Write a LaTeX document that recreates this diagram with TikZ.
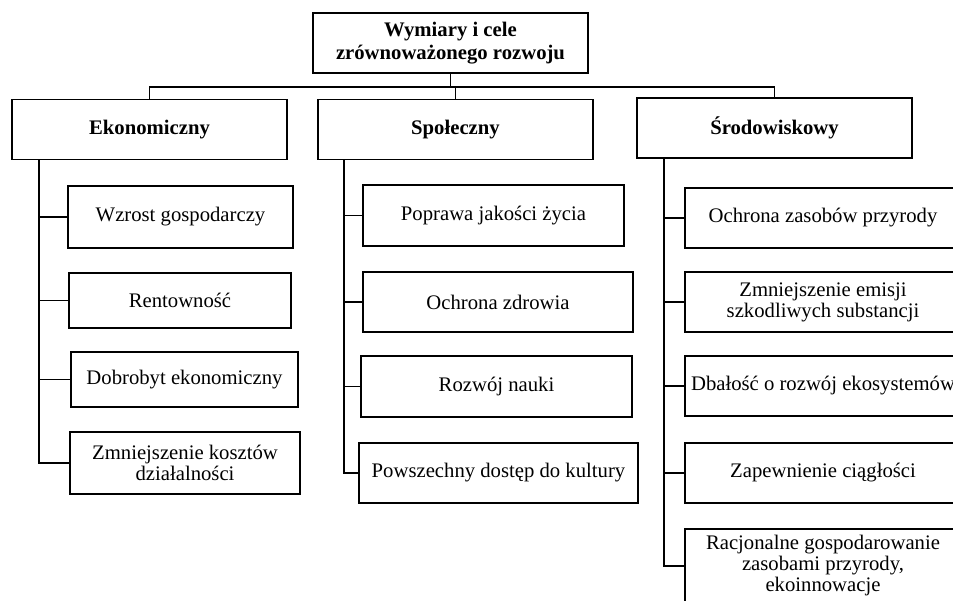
\documentclass[tikz,border=0pt]{standalone}
\usepackage{fontspec}
\setmainfont{Liberation Serif}
\tikzset{
  box/.style={draw, line width=1.7pt, align=center, inner xsep=2pt, inner ysep=0pt,
    font=\fontsize{20.7}{21}\selectfont},
  head/.style={box, minimum width=275pt, minimum height=60pt,
    font=\fontsize{20.7}{23}\selectfont\bfseries},
  link/.style={line width=1.8pt},
}
\begin{document}
\begin{tikzpicture}[x=1pt,y=-1pt]
    \clip (0,0) rectangle (953,600);

    % naglowek i trzy wymiary
    \node[head] (cel) at (450.5,43) {Wymiary i cele\\zrównoważonego rozwoju};
    \node[head] (eko) at (149.5,129.5) {Ekonomiczny};
    \node[head] (spo) at (455.5,129.5) {Społeczny};
    \node[head] (sro) at (774.5,128) {Środowiskowy};

    % ekonomiczny
    \node[box, minimum width=225pt, minimum height=62pt] (e1) at (180.5,217) {Wzrost gospodarczy};
    \node[box, minimum width=222pt, minimum height=55pt] (e2) at (180,300.5) {Rentowność};
    \node[box, minimum width=227pt, minimum height=55pt] (e3) at (184.5,379.5) {Dobrobyt ekonomiczny};
    \node[box, minimum width=230pt, minimum height=62pt] (e4) at (185,463) {Zmniejszenie kosztów\\działalności};

    % spoleczny
    \node[box, minimum width=261pt, minimum height=61pt] (s1) at (493.5,215.5) {Poprawa jakości życia};
    \node[box, minimum width=270pt, minimum height=60pt] (s2) at (498,302) {Ochrona zdrowia};
    \node[box, minimum width=271pt, minimum height=61pt] (s3) at (496.5,386.5) {Rozwój nauki};
    \node[box, minimum width=279pt, minimum height=60pt] (s4) at (498.5,473) {Powszechny dostęp do kultury};

    % srodowiskowy
    \node[box, minimum width=276pt, minimum height=60pt] (r1) at (823,218) {Ochrona zasobów przyrody};
    \node[box, minimum width=276pt, minimum height=60pt] (r2) at (823,302) {Zmniejszenie emisji\\szkodliwych substancji};
    \node[box, minimum width=276pt, minimum height=60pt] (r3) at (823,386) {Dbałość o rozwój ekosystemów};
    \node[box, minimum width=276pt, minimum height=60pt] (r4) at (823,473) {Zapewnienie ciągłości};
    \node[box, minimum width=276pt, minimum height=74pt] (r5) at (823,566) {Racjonalne gospodarowanie\\zasobami przyrody,\\ekoinnowacje};

    % polaczenia
    \foreach \d in {eko,spo,sro}
        \draw[link] (cel.south) -- ++(0,13) -| (\d.north);

    \coordinate (ekoT) at ([xshift=28pt]eko.south west);
    \coordinate (spoT) at ([xshift=27pt]spo.south west);
    \coordinate (sroT) at ([xshift=27.5pt]sro.south west);

    \foreach \c in {e1,e2,e3,e4}
        \draw[link] (ekoT) |- (\c.west);
    \foreach \c in {s1,s2,s3,s4}
        \draw[link] (spoT) |- (\c.west);
    \foreach \c in {r1,r2,r3,r4,r5}
        \draw[link] (sroT) |- (\c.west);
\end{tikzpicture}
\end{document}
